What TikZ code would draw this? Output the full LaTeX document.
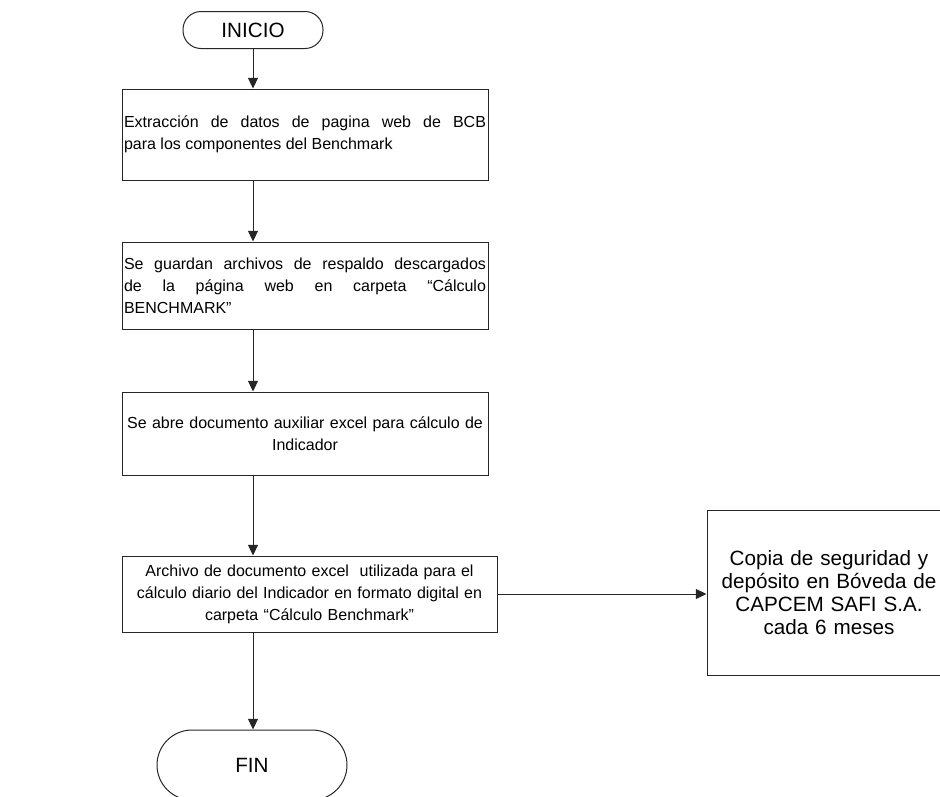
\documentclass[tikz,border=0pt]{standalone}
\usepackage{fontspec}
\setmainfont{Liberation Sans}
\usetikzlibrary{arrows.meta,calc}
\hyphenpenalty=10000
\exhyphenpenalty=10000
\begin{document}
\begin{tikzpicture}[x=0.75pt,y=-0.75pt,
  boxfont/.style={font=\fontsize{12}{16.5}\selectfont},
  bigfont/.style={font=\fontsize{15.5}{17.3}\selectfont},
  procbox/.style={draw=black!85,line width=0.75pt,inner sep=1.5pt,boxfont},
  term/.style={draw=black!85,line width=0.75pt,inner sep=0pt,bigfont},
  flow/.style={draw=black!85,line width=0.75pt,-{Triangle[length=8pt,width=7.5pt]}}]
\useasboundingbox (0,0) rectangle (940,797);
\clip (0,0) rectangle (940,797);
\node[term,rounded corners=13.5pt,minimum width=105pt,minimum height=27.75pt] (inicio) at (253,30) {INICIO};
\node[procbox,minimum width=274.5pt,minimum height=68.25pt,text width=271.5pt,align=justify] (b1) at (305,134.5)
  {\hyphenpenalty=10000\relax Extracción de datos de pagina web de BCB\linebreak para los componentes del Benchmark};
\node[procbox,minimum width=274.5pt,minimum height=65.25pt,text width=271.5pt,align=justify] (b2) at (305,285.5)
  {\hyphenpenalty=10000\relax Se guardan archivos de respaldo descargados\linebreak de la página web en carpeta “Cálculo\linebreak BENCHMARK”\par\vspace{8pt}};
\node[procbox,minimum width=274.5pt,minimum height=62.25pt,text width=271.5pt,align=center] (b3) at (305,433.5)
  {Se abre documento auxiliar excel para cálculo de\\Indicador};
\node[procbox,minimum width=281.25pt,minimum height=57pt,text width=278pt,align=center] (b4) at (309.5,594)
  {Archivo de documento excel\ \ utilizada para el\\cálculo diario del Indicador en formato digital en\\carpeta “Cálculo Benchmark”};
\node[procbox,bigfont,minimum width=181.5pt,minimum height=123.75pt,text width=180pt,align=center] (b5) at (829,592.5)
  {Copia de seguridad y\\depósito en Bóveda de\\CAPCEM SAFI S.A.\\cada 6 meses};
\node[term,rounded corners=26.25pt,minimum width=142.5pt,minimum height=52.5pt] (fin) at (252,765) {FIN};
\draw[flow] (inicio.south) -- (inicio.south |- b1.north);
\draw[flow] (inicio.south |- b1.south) -- (inicio.south |- b2.north);
\draw[flow] (inicio.south |- b2.south) -- (inicio.south |- b3.north);
\draw[flow] (inicio.south |- b3.south) -- (inicio.south |- b4.north);
\draw[flow] (inicio.south |- b4.south) -- (inicio.south |- fin.north);
\draw[flow] (b4.east) -- (b4.east -| b5.west);
\end{tikzpicture}
\end{document}
